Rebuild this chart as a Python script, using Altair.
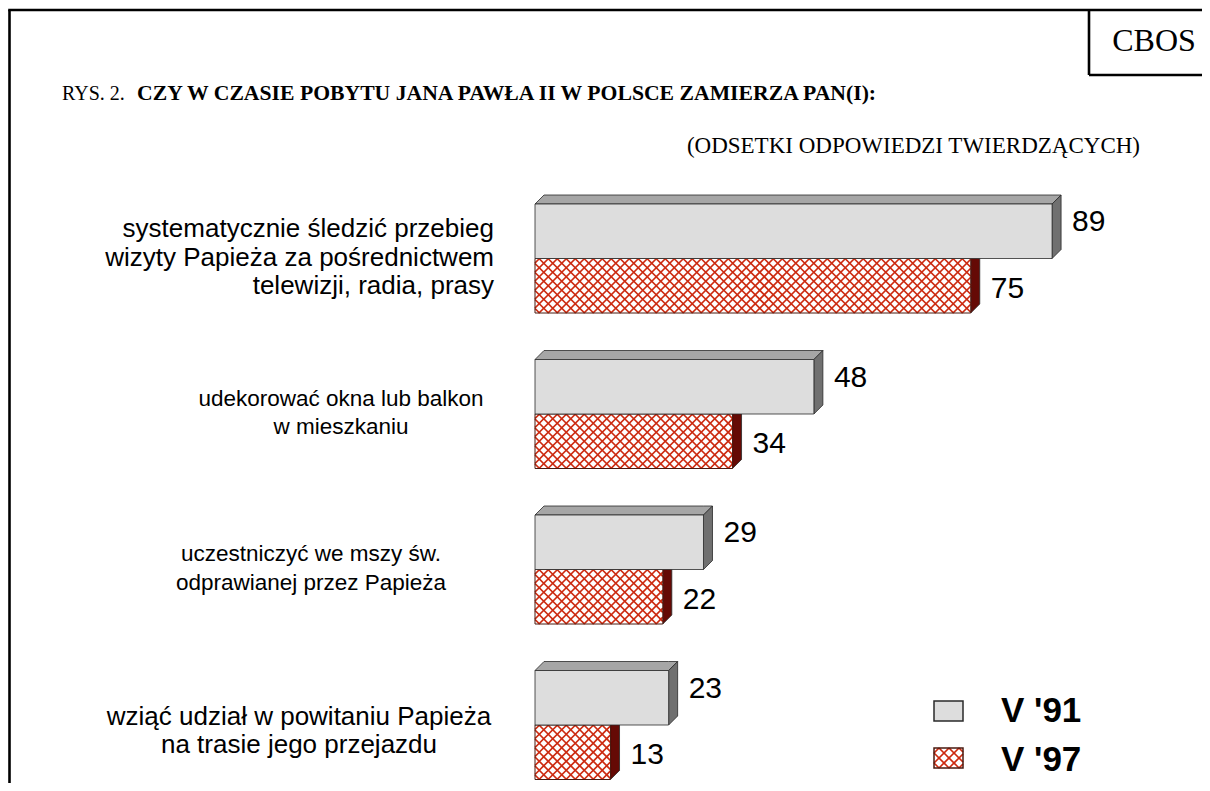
import altair as alt
import pandas as pd

# ---------------- data ----------------
categories = [
    "systematycznie śledzić przebieg\nwizyty Papieża za pośrednictwem\ntelewizji, radia, prasy",
    "udekorować okna lub balkon\nw mieszkaniu",
    "uczestniczyć we mszy św.\nodprawianej przez Papieża",
    "wziąć udział w powitaniu Papieża\nna trasie jego przejazdu",
]
v91 = [89, 48, 29, 23]
v97 = [75, 34, 22, 13]
series = ["V '91", "V '97"]
title_prefix = "RYS. 2."
title_main = "CZY W CZASIE POBYTU JANA PAWŁA II W POLSCE ZAMIERZA PAN(I):"
subtitle = "(ODSETKI ODPOWIEDZI TWIERDZĄCYCH)"
source = "CBOS"

# ---------------- layout ----------------
W, H = 1194, 775
PX = 5.81          # pixels per percentage point
X0 = 527           # chart-x of the bars' origin
ROW0 = 196         # top of first front face
ROW_STEP = 155.5
BAR_H = 54.5
DEPTH = 9
HATCH = 9
LINE_H = 28.5
LABEL_ALIGN = ["right", "center", "center", "center"]
LABEL_X = [486, 333, 303, 291]
LABEL_SIZE = [26, 22.5, 22.5, 26]
LABEL_DY = [0, 0, 0, 7]
SANS = "Liberation Sans"
SERIF = "Liberation Serif"

GRAY_FRONT = "#DDDDDD"
GRAY_TOP = "#A6A6A6"
GRAY_SIDE = "#707070"
RED_SIDE = "#650A05"
HATCH_COL = "#CC2A10"
EDGE = "#2A2A2A"

xs = alt.Scale(domain=[-X0 / PX, (W - X0) / PX], nice=False, zero=False)
ys = alt.Scale(domain=[0, H], nice=False, zero=False, reverse=True)
dx = DEPTH / PX


def px2x(p):
    return (p - X0) / PX


# ---------------- derived tables ----------------
front91, front97, faces_top, faces_side, faces_rside = [], [], [], [], []
lab91, lab97, cat_rows = [], [], []
for i, (c, a, b) in enumerate(zip(categories, v91, v97)):
    T = ROW0 + i * ROW_STEP
    front91.append({"x": 0, "x2": a, "y": T, "y2": T + BAR_H})
    front97.append({"x": 0, "x2": b, "y": T + BAR_H, "y2": T + 2 * BAR_H})
    f = f"t{i}"
    for xx, y1, y2 in [(0, T, T), (dx, T - DEPTH, T), (a, T - DEPTH, T), (a + dx, T - DEPTH, T - DEPTH)]:
        faces_top.append({"face": f, "x": xx, "y": y1, "y2": y2})
    f = f"s{i}"
    for xx, y1, y2 in [(a, T, T + BAR_H), (a + dx, T - DEPTH, T + BAR_H - DEPTH)]:
        faces_side.append({"face": f, "x": xx, "y": y1, "y2": y2})
    f = f"r{i}"
    for xx, y1, y2 in [(b, T + BAR_H, T + 2 * BAR_H), (b + dx, T + BAR_H - DEPTH, T + 2 * BAR_H - DEPTH)]:
        faces_rside.append({"face": f, "x": xx, "y": y1, "y2": y2})
    lab91.append({"x": a, "y": T + BAR_H / 2 - 9, "t": str(a)})
    lab97.append({"x": b, "y": T + 1.5 * BAR_H + 3, "t": str(b)})
    n_lines = c.count("\n") + 1
    cat_rows.append({"x": px2x(LABEL_X[i]),
                     "y": T + BAR_H - 1 + LABEL_DY[i] - (n_lines - 1) * LINE_H / 2,
                     "t": c})


def hatch(left_px, top, w_px, h_px, s):
    segs = []
    c = s / 2
    while c < w_px + h_px:
        w1 = max(0, c - w_px); u1 = c - w1
        w2 = min(h_px, c); u2 = c - w2
        segs.append((u1, w1, u2, w2))
        c += s
    c = -h_px + s / 2
    while c < w_px:
        w1 = max(0, -c); u1 = c + w1
        w2 = min(h_px, w_px - c); u2 = c + w2
        segs.append((u1, w1, u2, w2))
        c += s
    return [{"x": (left_px + u1) / PX, "y": top + w1, "x2": (left_px + u2) / PX, "y2": top + w2}
            for (u1, w1, u2, w2) in segs]


hatch_rows = []
for r in front97:
    hatch_rows += hatch(0, r["y"], r["x2"] * PX, BAR_H, HATCH)

# legend
LEG_L, LEG_R = 926, 955
LEG_Y = [693, 740]
LEG_SH = 20
leg_gray = [{"x": px2x(LEG_L), "x2": px2x(LEG_R), "y": LEG_Y[0], "y2": LEG_Y[0] + LEG_SH}]
leg_red = [{"x": px2x(LEG_L), "x2": px2x(LEG_R), "y": LEG_Y[1], "y2": LEG_Y[1] + LEG_SH}]
leg_hatch = hatch(LEG_L - X0, LEG_Y[1], LEG_R - LEG_L, LEG_SH, 10)
leg_text = [{"x": px2x(993), "y": LEG_Y[0] + 10, "t": series[0]},
            {"x": px2x(993), "y": LEG_Y[1] + 12, "t": series[1]}]


def enc_rect():
    return dict(x=alt.X("x:Q", scale=xs, axis=None), x2="x2:Q",
                y=alt.Y("y:Q", scale=ys, axis=None), y2="y2:Q")


def enc_pt():
    return dict(x=alt.X("x:Q", scale=xs, axis=None), y=alt.Y("y:Q", scale=ys, axis=None), text="t:N")


def area_layer(rows, fill):
    return alt.Chart(pd.DataFrame(rows)).mark_area(
        orient="vertical", interpolate="linear", fill=fill, stroke=EDGE,
        strokeWidth=0.8, opacity=1
    ).encode(x=alt.X("x:Q", scale=xs, axis=None), y=alt.Y("y:Q", scale=ys, axis=None),
             y2="y2:Q", detail="face:N")


layers = []
# red bars
layers.append(area_layer(faces_rside, RED_SIDE))
layers.append(alt.Chart(pd.DataFrame(front97)).mark_rect(fill="white", strokeWidth=0).encode(**enc_rect()))
layers.append(alt.Chart(pd.DataFrame(hatch_rows)).mark_rule(color=HATCH_COL, strokeWidth=1.7).encode(**enc_rect()))
layers.append(alt.Chart(pd.DataFrame(front97)).mark_rect(fill=None, stroke="#4A1A10", strokeWidth=1).encode(**enc_rect()))
# gray bars
layers.append(area_layer(faces_top, GRAY_TOP))
layers.append(area_layer(faces_side, GRAY_SIDE))
layers.append(alt.Chart(pd.DataFrame(front91)).mark_rect(fill=GRAY_FRONT, stroke=EDGE, strokeWidth=0.8).encode(**enc_rect()))

# value labels
for rows in (lab91, lab97):
    layers.append(alt.Chart(pd.DataFrame(rows)).mark_text(
        align="left", baseline="middle", dx=DEPTH + 11, font=SANS, fontSize=30, color="black"
    ).encode(**enc_pt()))

# category labels
for i, row in enumerate(cat_rows):
    layers.append(alt.Chart(pd.DataFrame([row])).mark_text(
        align=LABEL_ALIGN[i], baseline="middle", lineBreak="\n", lineHeight=LINE_H,
        font=SANS, fontSize=LABEL_SIZE[i], color="black"
    ).encode(**enc_pt()))

# legend
layers.append(alt.Chart(pd.DataFrame(leg_gray)).mark_rect(fill=GRAY_FRONT, stroke=EDGE, strokeWidth=1.5).encode(**enc_rect()))
layers.append(alt.Chart(pd.DataFrame(leg_red)).mark_rect(fill="white", strokeWidth=0).encode(**enc_rect()))
layers.append(alt.Chart(pd.DataFrame(leg_hatch)).mark_rule(color=HATCH_COL, strokeWidth=1.7).encode(**enc_rect()))
layers.append(alt.Chart(pd.DataFrame(leg_red)).mark_rect(fill=None, stroke="#4A1A10", strokeWidth=1.5).encode(**enc_rect()))
layers.append(alt.Chart(pd.DataFrame(leg_text)).mark_text(
    align="left", baseline="middle", font=SANS, fontSize=35, fontWeight="bold", color="black"
).encode(**enc_pt()))

# frame
def rule(**kw):
    return alt.Chart(pd.DataFrame({"a": [0]})).mark_rule(color="black", strokeWidth=2.6).encode(**kw)

layers.append(rule(x=alt.value(1.5), y=alt.value(2), y2=alt.value(H)))
layers.append(rule(x=alt.value(0.2), x2=alt.value(W), y=alt.value(2)))
layers.append(rule(x=alt.value(1081), y=alt.value(2), y2=alt.value(67)))
layers.append(rule(x=alt.value(1081), x2=alt.value(W), y=alt.value(67)))

# titles
def txt(s, x, y, **kw):
    return alt.Chart(pd.DataFrame({"t": [s]})).mark_text(color="black", **kw).encode(
        x=alt.value(x), y=alt.value(y), text="t:N")

layers.append(txt(source, 1146, 43, align="center", baseline="alphabetic", font=SERIF, fontSize=32))
layers.append(txt(title_prefix, 54, 92, align="left", baseline="alphabetic", font=SERIF, fontSize=20))
layers.append(txt(title_main, 129, 92, align="left", baseline="alphabetic", font=SERIF, fontSize=21.7, fontWeight="bold"))
layers.append(txt(subtitle, 1132, 145, align="right", baseline="alphabetic", font=SERIF, fontSize=23))

chart = alt.layer(*layers).properties(
    width=W, height=H, padding=0, autosize=alt.AutoSizeParams(type="none"),
    background="white"
).configure_view(stroke=None)

chart.save("out.html", embed_options={"renderer": "svg", "actions": False})
